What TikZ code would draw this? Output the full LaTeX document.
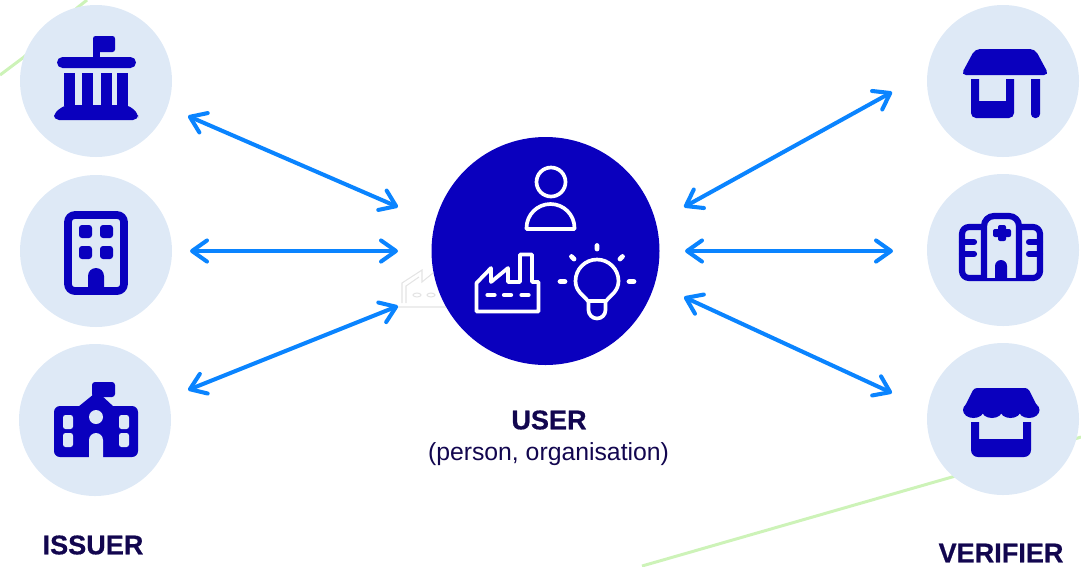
\documentclass[tikz,border=0pt]{standalone}
\usepackage{fontspec}
\setmainfont{Liberation Sans}[BoldFeatures={FakeBold=0.6}]
\usetikzlibrary{arrows.meta}
\definecolor{royal}{HTML}{0A00BE}
\definecolor{pale}{HTML}{DEE9F6}
\definecolor{sky}{HTML}{0A84FF}
\definecolor{ink}{HTML}{12064F}
\definecolor{leaf}{HTML}{CDF3B8}
\definecolor{ghost}{HTML}{E4E4E4}
\tikzset{
  disc/.style={circle,fill=pale,minimum size=152*.02cm,inner sep=0},
  hub/.style={circle,fill=royal,minimum size=228*.02cm,inner sep=0},
  tip/.tip={Straight Barb[length=8.5pt,width=12pt,line width=2.3pt,round]},
  link/.style={draw=sky,line width=2.3pt,tip-tip},
  role/.style={font=\bfseries\fontsize{15.4pt}{18pt}\selectfont,text=ink,inner sep=0},
  note/.style={font=\fontsize{14.1pt}{17pt}\selectfont,text=ink,inner sep=0},
  px round/.style={rounded corners=#1*.569pt},
  solid icon/.style={fill=royal},
  line icon/.style={draw=white,line width=2.1pt,line join=round,line cap=round},
  ray icon/.style={draw=white,line width=2.7pt,line cap=round},
  bar icon/.style={draw=royal,line width=3.5pt,line join=round}
}
\begin{document}
\begin{tikzpicture}[x=.02cm,y=-.02cm]
  \useasboundingbox (0,0) rectangle (1081,566);
  % faint background lines
  \draw[leaf,line width=1.7pt] (0,75) -- (24,57) -- (77,8) -- (87,0);
  \draw[leaf,line width=1.7pt] (642,566) -- (952,477) -- (1081,437);
  \draw[ghost,line width=.6pt] (398,307) -- (450,307) (402,303) -- (402,283) -- (422,270) -- (422,282) -- (433,273) (406,303) -- (406,286) -- (419,277);
  \draw[ghost,line width=.6pt] (417,295) ellipse (4 and 2) (431,295) ellipse (4 and 2);

  \node[disc] (issuer1) at (96,81) {};
  \node[disc] (issuer2) at (96,251) {};
  \node[disc] (issuer3) at (95,420) {};
  \node[disc] (verifier1) at (1003,81) {};
  \node[disc] (verifier2) at (1003,250) {};
  \node[disc] (verifier3) at (1003,419) {};
  \node[hub] (user) at (545.5,251) {};

  \node[role] (issuerlabel) at (93,545) {ISSUER};
  \node[role] (verifierlabel) at (1001,553) {VERIFIER};
  \node[role] (userlabel) at (549,420) {USER};
  \node[note] (usernote) at (548.5,454) {(person, organisation)};

  \coordinate (i1) at (188,116);
  \coordinate (i2) at (190,251);
  \coordinate (i3) at (188,390);
  \coordinate (u1) at (398,207);
  \coordinate (u2) at (398,251);
  \coordinate (u3) at (398,306);
  \coordinate (u4) at (684,207);
  \coordinate (u5) at (685,251);
  \coordinate (u6) at (684,297);
  \coordinate (v1) at (892,92);
  \coordinate (v2) at (893,251);
  \coordinate (v3) at (892,393);

  \foreach \source/\dest in {i1/u1,i2/u2,i3/u3,u4/v1,u5/v2,u6/v3}
    \draw[link] (\source) -- (\dest);

  % issuer icons
  \fill[solid icon,px round=2.5] (93,36) rectangle (115,52);
  \fill[solid icon] (93,40) rectangle (100,60);
  \fill[solid icon,px round=5.5] (57,57) rectangle (136,68);
  \foreach \x/\w in {64/11,82/10.5,101/10.5,117/11}
    \fill[solid icon] (\x,73) rectangle (\x+\w,106);
  \fill[solid icon,px round=5] (54,120) -- (54,113) -- (65,105) -- (128,105) -- (138,113) -- (138,120) -- cycle;

  \draw[bar icon,line width=4.4pt,px round=7] (68,215) rectangle (124,291);
  \foreach \x/\y in {79/225,100/225,79/246,100/246}
    \fill[solid icon,px round=3] (\x,\y) rectangle (\x+13,\y+13);
  \fill[solid icon] (88,292) -- (88,276) arc (180:360:8) -- (104,292) -- cycle;

  \fill[solid icon,px round=3] (92,382) rectangle (115,397);
  \fill[solid icon,px round=6] (54,406) rectangle (138,457);
  \fill[solid icon] (78,407) -- (94,394) -- (100,394) -- (114,407) -- cycle;
  \fill[pale] (96,417) circle (7);
  \foreach \x in {63,119}
    \foreach \y in {415,433}
      \fill[pale,px round=2.5] (\x,\y) rectangle (\x+10,\y+14);
  \fill[pale] (89,458) -- (89,440) arc (180:360:7) -- (103,458) -- cycle;

  % verifier icons
  \fill[solid icon,px round=5] (961,75) -- (975,49) -- (1035,49) -- (1049,75) -- cycle;
  \fill[solid icon] (971,79) [px round=5] -- (971,118) -- (1014,118) [sharp corners] -- (1014,79) -- (1006,79) -- (1006,101) -- (979,101) -- (979,79) -- cycle;
  \fill[solid icon] (1031,79) [px round=4] -- (1031,118) -- (1040,118) [sharp corners] -- (1040,79) -- cycle;

  \draw[bar icon,px round=7] (962,227) rectangle (1040,278);
  \fill[pale] (984,216) rectangle (1019,278);
  \draw[bar icon,px round=10] (984,278) -- (984,216) -- (1019,216) -- (1019,278);
  \foreach \y in {242,254}
    \draw[royal,line width=3.5pt,line cap=round] (962,\y) -- (974,\y) (1029,\y) -- (1040,\y);
  \fill[solid icon,px round=2] (998,225) rectangle (1006,241);
  \fill[solid icon,px round=2] (993,229) rectangle (1011,237);
  \fill[solid icon] (995,279) -- (995,266) arc (180:360:6) -- (1007,279) -- cycle;

  \fill[solid icon,px round=3] (964,408) -- (974,388) -- (1028,388) -- (1038,408) -- cycle;
  \foreach \x in {973.5,992,1010.5,1029}
    \fill[solid icon] (\x,410) ellipse (10.5 and 8);
  \fill[solid icon] (971,422) [px round=7] -- (971,457) -- (1031,457) [sharp corners] -- (1031,422) -- (1023,422) -- (1023,439) -- (979,439) -- (979,422) -- cycle;

  % user icons
  \draw[line icon] (551,182) circle (14.5);
  \draw[line icon] (526.5,229) -- (526.5,228) arc (180:360:24) -- (574.5,229) -- cycle;
  \draw[line icon] (476.5,311.5) -- (476.5,283) -- (491,268) -- (491,282) -- (508,268) -- (508,282) -- (520,282) -- (520,254.5) -- (532,254.5) -- (532,282) -- (538.5,282) -- (538.5,311.5) -- cycle;
  \foreach \x in {487.5,504,521.5}
    \draw[line icon,line width=2.4pt] (\x,295) -- (\x+7,295);
  \draw[line icon] (588,301) .. controls (583,295) and (575.5,291) .. (575.5,281) arc (180:360:21.5) .. controls (618.5,291) and (611,295) .. (606,301) -- cycle;
  \draw[line icon] (588.5,301) -- (588.5,310) arc (180:0:8.5) -- (605.5,301);
  \draw[ray icon] (597,245.5) -- (597,249) (571.5,256.5) -- (574,259) (622.5,256.5) -- (620,259) (560,281.5) -- (565,281.5) (629,281.5) -- (634,281.5);
\end{tikzpicture}
\end{document}
